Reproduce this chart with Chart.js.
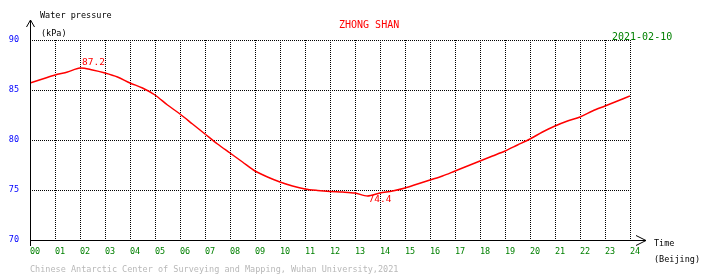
<!DOCTYPE html>
<html lang="en">
  <head>
    <meta charset="UTF-8" />
    <meta name="viewport" content="width=device-width, initial-scale=1.0" />
    <script src="https://cdn.jsdelivr.net/npm/chart.js@4.4.1/dist/chart.umd.min.js"></script>
    <title>ZHONG SHAN water pressure</title>
    <style>
      body { margin: 0; background: #fff; }
      canvas { display: block; }
    </style>
  </head>
  <body>
    <canvas id="myChart" width="710" height="278"></canvas>
    <script>
      // hour of day (Beijing) and water pressure (kPa)
      const hours = [
        0, 0.5, 1, 1.5, 2, 2.5, 3, 3.5, 4, 4.5, 5, 5.5, 6, 6.5, 7, 7.5, 8, 8.5,
        9, 9.5, 10, 10.5, 11, 11.5, 12, 12.5, 13, 13.5, 14, 14.5, 15, 15.5, 16,
        16.5, 17, 17.5, 18, 18.5, 19, 19.5, 20, 20.5, 21, 21.5, 22, 22.5, 23,
        23.5, 24,
      ];
      const pressure = [
        85.7, 86.1, 86.5, 86.8, 87.2, 87.0, 86.7, 86.3, 85.7, 85.2, 84.5, 83.5,
        82.6, 81.6, 80.6, 79.6, 78.7, 77.8, 76.9, 76.3, 75.8, 75.4, 75.1, 74.95,
        74.85, 74.8, 74.7, 74.4, 74.7, 74.9, 75.2, 75.6, 76.0, 76.4, 76.9, 77.4,
        77.9, 78.4, 78.9, 79.5, 80.1, 80.8, 81.4, 81.9, 82.3, 82.9, 83.4, 83.9,
        84.4,
      ];
      const yTicks = [70, 75, 80, 85, 90];

      const station = "ZHONG SHAN";
      const day = "2021-02-10";
      const footer =
        "Chinese Antarctic Center of Surveying and Mapping, Wuhan University,2021";

      const mono = "DejaVu Sans Mono";

      // axes with arrows, labels, max / min marks
      const decor = {
        id: "decor",
        afterDraw(chart) {
          const ctx = chart.ctx;
          const a = chart.chartArea;
          const xs = chart.scales.x;
          const ys = chart.scales.y;
          ctx.save();
          ctx.strokeStyle = "#000";
          ctx.lineWidth = 1;
          ctx.beginPath();
          // y axis
          ctx.moveTo(a.left + 0.5, a.bottom + 6);
          ctx.lineTo(a.left + 0.5, 20);
          ctx.moveTo(a.left - 3.5, 27);
          ctx.lineTo(a.left + 0.5, 20);
          ctx.lineTo(a.left + 4.5, 27);
          // x axis
          ctx.moveTo(a.left, a.bottom + 0.5);
          ctx.lineTo(a.right + 16, a.bottom + 0.5);
          ctx.moveTo(a.right + 6, a.bottom - 4.5);
          ctx.lineTo(a.right + 16, a.bottom + 0.5);
          ctx.lineTo(a.right + 6, a.bottom + 5.5);
          ctx.stroke();

          ctx.textBaseline = "middle";
          ctx.textAlign = "left";
          ctx.font = "8.5px '" + mono + "'";
          ctx.fillStyle = "#000";
          ctx.fillText("Water pressure", 40, 16);
          ctx.fillText("(kPa)", 41, 34);
          ctx.fillText("Time", 654, 244);
          ctx.fillText("(Beijing)", 654, 260);
          ctx.fillStyle = "#b8b8b8";
          ctx.fillText(footer, 30, 270);

          ctx.font = "10px '" + mono + "'";
          ctx.fillStyle = "#ff0000";
          ctx.fillText(station, 339, 25);
          ctx.fillStyle = "#008000";
          ctx.fillText(day, 612, 37);

          // max and min values
          var iMax = 0;
          var iMin = 0;
          for (var i = 0; i < pressure.length; i++) {
            if (pressure[i] > pressure[iMax]) iMax = i;
            if (pressure[i] < pressure[iMin]) iMin = i;
          }
          ctx.font = "9.5px '" + mono + "'";
          ctx.fillStyle = "#ff0000";
          ctx.fillText(
            pressure[iMax].toFixed(1),
            xs.getPixelForValue(hours[iMax]) + 2,
            ys.getPixelForValue(pressure[iMax]) - 5,
          );
          ctx.fillText(
            pressure[iMin].toFixed(1),
            xs.getPixelForValue(hours[iMin]) + 1,
            ys.getPixelForValue(pressure[iMin]) + 4,
          );
          ctx.restore();
        },
      };

      const ctx = document.getElementById("myChart");

      new Chart(ctx, {
        type: "line",
        data: {
          datasets: [
            {
              data: hours.map((h, i) => ({ x: h, y: pressure[i] })),
              borderColor: "#ff0000",
              borderWidth: 1.5,
              pointRadius: 0,
              tension: 0.3,
              fill: false,
            },
          ],
        },
        options: {
          responsive: false,
          animation: false,
          layout: { padding: { top: 40, right: 80, left: 0, bottom: 0 } },
          plugins: {
            legend: { display: false },
            tooltip: { enabled: false },
          },
          scales: {
            x: {
              type: "linear",
              min: 0,
              max: 24,
              afterFit: (s) => { s.height = 38; },
              ticks: {
                stepSize: 1,
                autoSkip: false,
                maxRotation: 0,
                align: "start",
                padding: 7,
                color: "#008000",
                font: { family: mono, size: 8.5 },
                callback: (v) => String(v).padStart(2, "0"),
              },
              grid: {
                drawTicks: false,
                color: (c) => (c.tick && c.tick.value === 0 ? "rgba(0,0,0,0)" : "#000"),
              },
              border: { display: false, dash: [1, 1] },
            },
            y: {
              min: 70,
              max: 90,
              afterFit: (s) => { s.width = 30; },
              afterBuildTicks: (s) => { s.ticks = yTicks.map((v) => ({ value: v })); },
              ticks: {
                padding: 11,
                color: "#0000ff",
                font: { family: mono, size: 8.5 },
              },
              grid: {
                drawTicks: false,
                color: (c) => (c.tick && c.tick.value === 70 ? "rgba(0,0,0,0)" : "#000"),
              },
              border: { display: false, dash: [1, 1] },
            },
          },
        },
        plugins: [decor],
      });
    </script>
  </body>
</html>
